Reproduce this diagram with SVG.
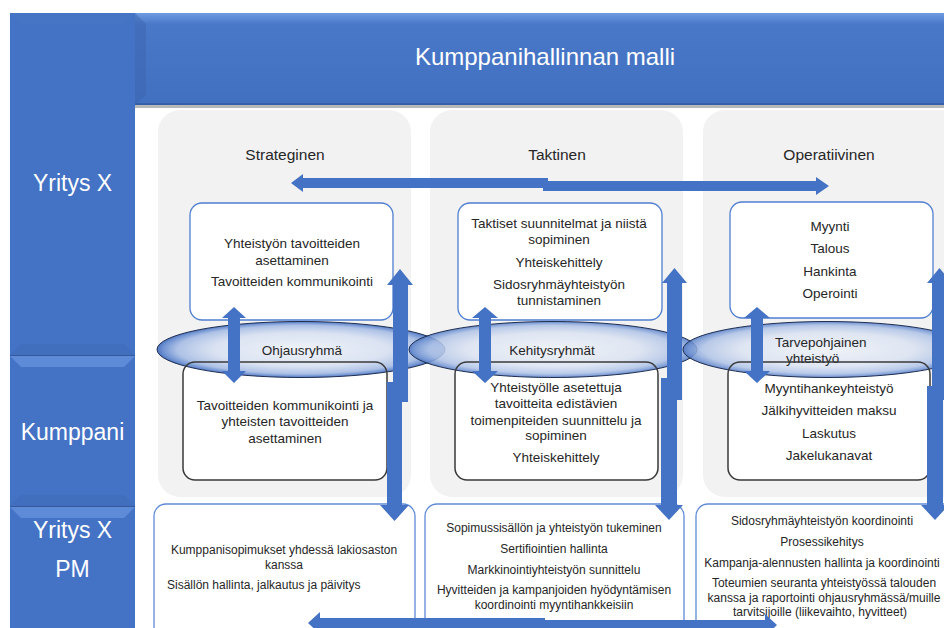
<svg xmlns="http://www.w3.org/2000/svg" width="944" height="628" viewBox="0 0 944 628">
<style>
.t{font-family:"Liberation Sans",Arial,sans-serif;font-size:13.5px;fill:#262626;text-anchor:middle}
.pm{font-size:12px}
.col{font-size:15.5px}
.w{fill:#ffffff;font-size:23px}
.hdr{font-size:24px}
.st{text-anchor:start}
.panel{fill:#f2f2f2}
.topbox{fill:#ffffff;stroke:#4f7fd0;stroke-width:1.3}
.botfill{fill:#ffffff}
.botbox{fill:none;stroke:#3a3a3a;stroke-width:1.5}
.pmbox{fill:#ffffff;stroke:#5f8ad6;stroke-width:1.3}
.ell{fill:url(#eg);stroke:#1f2f52;stroke-width:1}
.arr{fill:#4472c4}
.seg{fill:#4472c4}
.bvl{fill:#5d8bd8}
.bvd{fill:#3e69b6}
.bvs{fill:#4775c6}
</style>
<defs>
<radialGradient id="eg" cx="50%" cy="50%" r="50%">
<stop offset="0" stop-color="#eef2f9"/>
<stop offset="0.6" stop-color="#dbe3f2"/>
<stop offset="0.86" stop-color="#aec2e6"/>
<stop offset="0.96" stop-color="#6f92d2"/>
<stop offset="1" stop-color="#4d74bf"/>
</radialGradient>
<linearGradient id="hg" x1="0" y1="0" x2="0" y2="1">
<stop offset="0" stop-color="#6f9be2"/>
<stop offset="0.12" stop-color="#4a78c8"/>
<stop offset="1" stop-color="#4270c0"/>
</linearGradient>
</defs>
<rect x="0" y="0" width="944" height="628" fill="#ffffff"/>

<g id="header">
<rect x="135" y="105" width="809" height="3" fill="#b8b8b8"/>
<rect x="135" y="13" width="809" height="92" fill="url(#hg)"/>
<polygon points="135,13 146,24 146,95 135,105" fill="#3a63ad" opacity="0.5"/>
<rect x="135" y="103" width="809" height="2" fill="#3560a8"/>
<text class="t w hdr" x="545" y="65">Kumppanihallinnan malli</text>
</g>

<g id="row-yritys-x">
<rect class="seg" x="10" y="13" width="125" height="342"/>
<polygon class="bvs" points="10,13 135,13 124,24 21,24"/>
<polygon class="bvd" points="10,355 135,355 124,344 21,344" opacity="0.5"/>
<text class="t w" x="72.5" y="191">Yritys X</text>
</g>

<g id="row-kumppani">
<rect class="seg" x="10" y="356" width="125" height="150"/>
<polygon class="bvl" points="10,356 135,356 124,367 21,367"/>
<polygon class="bvd" points="10,506 135,506 124,495 21,495" opacity="0.5"/>
<rect x="10" y="355" width="125" height="1" fill="#35599c"/>
<text class="t w" x="72.5" y="440">Kumppani</text>
</g>

<g id="row-yritys-x-pm">
<rect class="seg" x="10" y="507" width="125" height="121"/>
<polygon class="bvl" points="10,507 135,507 124,518 21,518"/>
<rect x="10" y="506" width="125" height="1" fill="#35599c"/>
<text class="t w" x="72.5" y="538">Yritys X</text>
<text class="t w" x="72.5" y="577">PM</text>
</g>

<g id="col-strateginen">
<rect class="panel" x="158" y="110" width="253" height="387" rx="22"/>
<text class="t col" x="285" y="160">Strateginen</text>
</g>
<g id="col-taktinen">
<rect class="panel" x="430" y="110" width="253" height="387" rx="22"/>
<text class="t col" x="557" y="160">Taktinen</text>
</g>
<g id="col-operatiivinen">
<rect class="panel" x="703" y="110" width="260" height="387" rx="22"/>
<text class="t col" x="829" y="160">Operatiivinen</text>
</g>

<g id="box-strateginen-yritys">
<rect class="topbox" x="190" y="203" width="203" height="117" rx="12"/>
<text class="t" x="292" y="248">Yhteistyön tavoitteiden</text>
<text class="t" x="292" y="265">asettaminen</text>
<text class="t" x="292" y="286">Tavoitteiden kommunikointi</text>
</g>
<g id="box-taktinen-yritys">
<rect class="topbox" x="458" y="203" width="204" height="117" rx="12"/>
<text class="t" x="559" y="228">Taktiset suunnitelmat ja niistä</text>
<text class="t" x="559" y="244">sopiminen</text>
<text class="t" x="559" y="267">Yhteiskehittely</text>
<text class="t" x="559" y="289">Sidosryhmäyhteistyön</text>
<text class="t" x="559" y="305">tunnistaminen</text>
</g>
<g id="box-operatiivinen-yritys">
<rect class="topbox" x="730" y="202" width="203" height="116" rx="12"/>
<text class="t" x="830" y="231">Myynti</text>
<text class="t" x="830" y="253">Talous</text>
<text class="t" x="830" y="276">Hankinta</text>
<text class="t" x="830" y="298">Operointi</text>
</g>

<rect class="botfill" x="183" y="362" width="204" height="118" rx="12"/>
<rect class="botfill" x="455" y="362" width="203" height="118" rx="12"/>
<rect class="botfill" x="728" y="362" width="202" height="118" rx="12"/>

<g id="group-ohjausryhma">
<ellipse class="ell" cx="301" cy="349.5" rx="144" ry="28"/>
<text class="t" x="302" y="355">Ohjausryhmä</text>
</g>
<g id="group-kehitysryhmat">
<ellipse class="ell" cx="553" cy="349.5" rx="144" ry="28" fill-opacity="0.85"/>
<text class="t" x="552" y="355">Kehitysryhmät</text>
</g>
<g id="group-tarvepohjainen">
<ellipse class="ell" cx="827" cy="349.5" rx="144" ry="28" fill-opacity="0.85"/>
<text class="t st" x="775" y="347">Tarvepohjainen</text>
<text class="t st" x="786" y="363">yhteistyö</text>
</g>

<g id="box-strateginen-kumppani">
<rect class="botbox" x="183" y="362" width="204" height="118" rx="12"/>
<text class="t" x="285" y="410">Tavoitteiden kommunikointi ja</text>
<text class="t" x="285" y="426">yhteisten tavoitteiden</text>
<text class="t" x="285" y="443">asettaminen</text>
</g>
<g id="box-taktinen-kumppani">
<rect class="botbox" x="455" y="362" width="203" height="118" rx="12"/>
<text class="t" x="556" y="392">Yhteistyölle asetettuja</text>
<text class="t" x="556" y="408">tavoitteita edistävien</text>
<text class="t" x="556" y="425">toimenpiteiden suunnittelu ja</text>
<text class="t" x="556" y="440">sopiminen</text>
<text class="t" x="556" y="462">Yhteiskehittely</text>
</g>
<g id="box-operatiivinen-kumppani">
<rect class="botbox" x="728" y="362" width="202" height="118" rx="12"/>
<text class="t" x="829" y="393">Myyntihankeyhteistyö</text>
<text class="t" x="829" y="415">Jälkihyvitteiden maksu</text>
<text class="t" x="829" y="438">Laskutus</text>
<text class="t" x="829" y="460">Jakelukanavat</text>
</g>

<g id="box-strateginen-pm">
<rect class="pmbox" x="154" y="504" width="261" height="140" rx="12"/>
<text class="t pm" x="284" y="554">Kumppanisopimukset yhdessä lakiosaston</text>
<text class="t pm" x="284" y="569">kanssa</text>
<text class="t pm st" x="167" y="589">Sisällön hallinta, jalkautus ja päivitys</text>
</g>
<g id="box-taktinen-pm">
<rect class="pmbox" x="425" y="504" width="259" height="140" rx="12"/>
<text class="t pm" x="554" y="532">Sopimussisällön ja yhteistyön tukeminen</text>
<text class="t pm" x="554" y="553">Sertifiointien hallinta</text>
<text class="t pm" x="554" y="574">Markkinointiyhteistyön sunnittelu</text>
<text class="t pm" x="554" y="594">Hyvitteiden ja kampanjoiden hyödyntämisen</text>
<text class="t pm" x="554" y="609">koordinointi myyntihankkeisiin</text>
</g>
<g id="box-operatiivinen-pm">
<rect class="pmbox" x="696" y="504" width="270" height="140" rx="12"/>
<text class="t pm" x="822" y="525">Sidosryhmäyhteistyön koordinointi</text>
<text class="t pm" x="822" y="546">Prosessikehitys</text>
<text class="t pm" x="822" y="567">Kampanja-alennusten hallinta ja koordinointi</text>
<text class="t pm" x="824" y="587">Toteumien seuranta yhteistyössä talouden</text>
<text class="t pm" x="824" y="602">kanssa ja raportointi ohjausryhmässä/muille</text>
<text class="t pm" x="820" y="616">tarvitsijoille (liikevaihto, hyvitteet)</text>
</g>

<g id="connectors">
<polygon class="arr" points="291,183 303,174 303,178 548,178 548,188 303,188 303,192"/>
<polygon class="arr" points="543,181 816,181 816,177 829,186 816,195 816,191 543,191"/>

<polygon class="arr" points="234,307 246,318 240,318 240,371 246,371 234,383 222,371 228,371 228,318 222,318"/>
<polygon class="arr" points="485,307 498,318 491,318 491,371 498,371 485,383 472,371 479,371 479,318 472,318"/>
<polygon class="arr" points="757,307 770,318 763,318 763,371 770,371 757,383 744,371 751,371 751,318 744,318"/>

<polygon class="arr" points="400,269 413,285 408,285 408,402 393,402 393,285 387,285"/>
<polygon class="arr" points="387,382 402,382 402,505 409,505 394.5,521 380,505 387,505"/>
<polygon class="arr" points="674.5,268 687,283 682,283 682,400 667,400 667,283 662,283"/>
<polygon class="arr" points="661,378 677,378 677,505 683,505 669,520 655,505 661,505"/>
<polygon class="arr" points="939.5,268 952,283 947,283 947,400 932,400 932,283 927,283"/>
<polygon class="arr" points="927,386 943,386 943,505 949,505 935,520 921,505 927,505"/>

<polygon class="arr" points="308,623 320,612 320,618 545,618 545,628 320,628 320,634"/>
<polygon class="arr" points="529,620 765,620 765,614 777,625 765,636 765,630 529,630"/>
</g>
</svg>
